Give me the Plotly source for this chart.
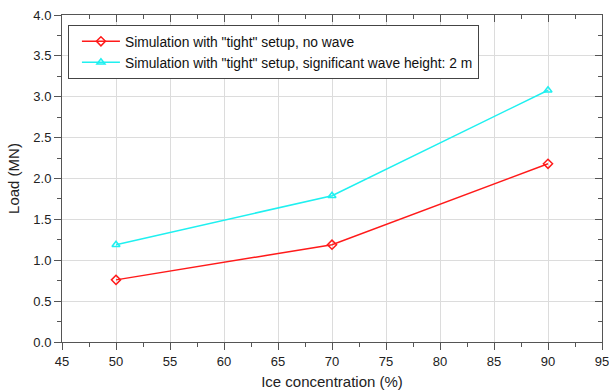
import plotly.graph_objects as go

ice_concentration = [50, 70, 90]
load_no_wave = [0.76, 1.19, 2.18]
load_wave_2m = [1.19, 1.79, 3.08]
name_no_wave = 'Simulation with "tight" setup, no wave'
name_wave = 'Simulation with "tight" setup, significant wave height: 2 m'

fig = go.Figure()
fig.add_trace(go.Scatter(
    x=ice_concentration, y=load_no_wave, name=name_no_wave, mode="lines+markers",
    line=dict(color="#ff1a1a", width=1.5),
    marker=dict(symbol="diamond-open", size=7, color="#ff1a1a", line=dict(width=1.5)),
))
fig.add_trace(go.Scatter(
    x=ice_concentration, y=load_wave_2m, name=name_wave, mode="lines+markers",
    line=dict(color="#1ff0f0", width=1.5),
    marker=dict(symbol="triangle-up-open", size=7, color="#1ff0f0", line=dict(width=1.5)),
))
# dummy trace to make the mirrored top/right axes render
fig.add_trace(go.Scatter(x=[45], y=[0], xaxis="x2", yaxis="y2", mode="markers",
                         marker=dict(opacity=0), showlegend=False, hoverinfo="skip"))

axis_font = dict(family="Liberation Sans, Arial, sans-serif", size=13, color="#222")
common = dict(showline=True, linecolor="#555", linewidth=1, tickcolor="#555",
              tickfont=axis_font, zeroline=False, automargin=False,
              ticklabeloverflow="allow")

fig.update_layout(
    width=609, height=390,
    margin=dict(l=62, r=7, t=15, b=48),
    paper_bgcolor="white", plot_bgcolor="white",
    font=dict(family="Liberation Sans, Arial, sans-serif", color="#222"),
    xaxis=dict(range=[45, 95], dtick=5, ticks="outside", ticklen=7,
               showgrid=True, gridcolor="#dcdcdc", gridwidth=1,
               minor=dict(dtick=2.5, ticks="outside", ticklen=4, tickcolor="#555", showgrid=False),
               title=dict(text="Ice concentration (%)", font=dict(size=15), standoff=9),
               **common),
    yaxis=dict(range=[0, 4], dtick=0.5, tickformat=".1f", ticks="outside", ticklen=7,
               showgrid=True, gridcolor="#dcdcdc", gridwidth=1,
               minor=dict(dtick=0.25, ticks="outside", ticklen=4, tickcolor="#555", showgrid=False),
               title=dict(text="Load (MN)", font=dict(size=15), standoff=10),
               **common),
    xaxis2=dict(range=[45, 95], dtick=5, overlaying="x", side="top", anchor="y2",
                ticks="inside", ticklen=7, showticklabels=False, showgrid=False,
                minor=dict(dtick=2.5, ticks="inside", ticklen=4, tickcolor="#555"),
                **common),
    yaxis2=dict(range=[0, 4], dtick=0.5, overlaying="y", side="right", anchor="x2",
                ticks="inside", ticklen=7, showticklabels=False, showgrid=False,
                minor=dict(dtick=0.25, ticks="inside", ticklen=4, tickcolor="#555"),
                **common),
    legend=dict(x=0.011, y=0.97, xanchor="left", yanchor="top",
                bgcolor="white", bordercolor="#444", borderwidth=1,
                font=dict(size=13.8, color="#111"), tracegroupgap=0,
                itemwidth=38, indentation=8),
    showlegend=True,
)

fig.write_html("out.html", config={"displayModeBar": False},
               post_script="document.body.style.margin='0';")
